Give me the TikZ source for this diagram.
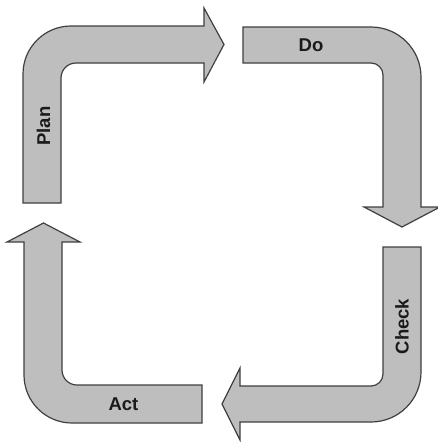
\documentclass[tikz,border=0pt]{standalone}
\usepackage{fontspec}
\setmainfont{Liberation Sans}
\definecolor{arrowfill}{HTML}{BEBEBE}
\definecolor{arrowline}{HTML}{404040}
\definecolor{labeltext}{HTML}{1A1A1A}
\tikzset{
  bentarrow/.style={fill=arrowfill, draw=arrowline, line width=1.2pt, line join=miter},
  steplabel/.style={font=\bfseries\fontsize{18.5}{20}\selectfont, text=labeltext, inner sep=0pt, text depth=0pt}
}
\begin{document}
\begin{tikzpicture}[x=1pt, y=1pt, yscale=-1]
\useasboundingbox[fill=white] (0,0) rectangle (437,442);
% Plan
\draw[bentarrow] (23,203) -- (23,74) arc[start angle=180, end angle=270, radius=48]
  -- (204,26) -- (204,8) -- (224,44.5) -- (204,82) -- (204,63) -- (76,63)
  arc[start angle=270, end angle=180, radius=15] -- (61,203) -- cycle;
% Do
\draw[bentarrow] (243,27) -- (371,27) arc[start angle=270, end angle=360, radius=50]
  -- (421,207) -- (440,207) -- (402,227) -- (364,207) -- (383,207) -- (383,75)
  arc[start angle=360, end angle=270, radius=12] -- (243,63) -- cycle;
% Check
\draw[bentarrow] (383,247) -- (421,247) -- (421,372) arc[start angle=0, end angle=90, radius=50]
  -- (240,422) -- (240,440) -- (222,404) -- (240,368) -- (240,386) -- (371,386)
  arc[start angle=90, end angle=0, radius=12] -- cycle;
% Act
\draw[bentarrow] (202,385) -- (202,423) -- (72,423) arc[start angle=90, end angle=180, radius=48]
  -- (24,242) -- (7,242) -- (43.5,223) -- (80,242) -- (62,242) -- (62,370)
  arc[start angle=180, end angle=90, radius=15] -- cycle;
% labels
\node[steplabel, rotate=90] (plan) at (43.5,126) {Plan};
\node[steplabel] (do) at (311,45.5) {Do};
\node[steplabel, rotate=90] (check) at (402,326.5) {Check};
\node[steplabel] (act) at (123.5,404.5) {Act};
\end{tikzpicture}
\end{document}
